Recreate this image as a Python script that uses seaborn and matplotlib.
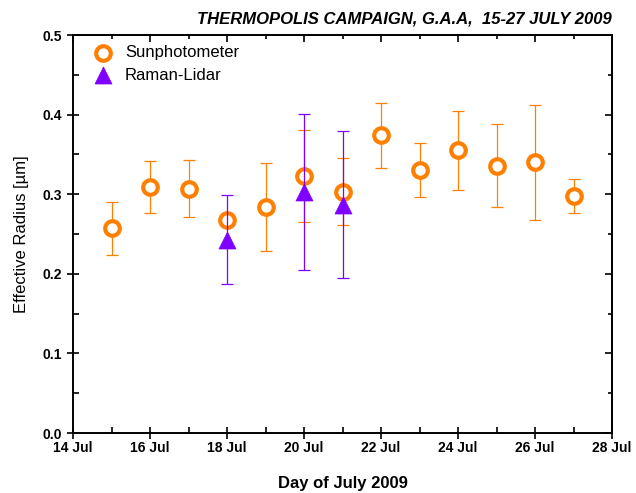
import numpy as np
import pandas as pd
import matplotlib
matplotlib.use("Agg")
import matplotlib.pyplot as plt
from matplotlib.ticker import MultipleLocator, FormatStrFormatter
import seaborn as sns

# data
sun_day = [15, 16, 17, 18, 19, 20, 21, 22, 23, 24, 25, 26, 27]
sun_reff = [0.257, 0.309, 0.307, 0.267, 0.284, 0.323, 0.303, 0.374, 0.330, 0.355, 0.336, 0.340, 0.298]
sun_err = [0.033, 0.033, 0.036, 0.0, 0.055, 0.058, 0.042, 0.041, 0.034, 0.050, 0.052, 0.072, 0.021]

lidar_day = [18, 20, 21]
lidar_reff = [0.243, 0.303, 0.287]
lidar_err = [0.056, 0.098, 0.092]

day_ticks = [14, 16, 18, 20, 22, 24, 26, 28]
day_labels = ["14 Jul", "16 Jul", "18 Jul", "20 Jul", "22 Jul", "24 Jul", "26 Jul", "28 Jul"]

orange = "#FF8000"
purple = "#8000FF"

sns.set_style("ticks")
plt.rcParams["font.family"] = ["Liberation Sans", "DejaVu Sans"]
plt.rcParams["text.color"] = "black"
plt.rcParams["axes.labelcolor"] = "black"
plt.rcParams["xtick.color"] = "black"
plt.rcParams["ytick.color"] = "black"

sun = pd.DataFrame({"day": sun_day, "reff": sun_reff, "err": sun_err})
lidar = pd.DataFrame({"day": lidar_day, "reff": lidar_reff, "err": lidar_err})

fig = plt.figure(figsize=(6.36, 4.93), dpi=100)
ax = fig.add_axes([0.1148, 0.1217, 0.8475, 0.8073])

# orange series: error bars then hollow circles
sun_e = sun[sun["err"] > 0]
ax.errorbar(sun_e["day"], sun_e["reff"], yerr=sun_e["err"], fmt="none",
            ecolor=orange, elinewidth=0.9, capsize=4.5, capthick=0.9, zorder=2)
sns.scatterplot(data=sun, x="day", y="reff", ax=ax, marker="o", s=110,
                facecolor="white", edgecolor=orange, linewidth=3,
                label="Sunphotometer", zorder=3)

# purple series on top
ax.errorbar(lidar["day"], lidar["reff"], yerr=lidar["err"], fmt="none",
            ecolor=purple, elinewidth=0.9, capsize=4.5, capthick=0.9, zorder=4)
sns.scatterplot(data=lidar, x="day", y="reff", ax=ax, marker="^", s=150,
                color=purple, edgecolor=purple, linewidth=0.5,
                label="Raman-Lidar", zorder=5)

ax.set_xlim(14, 28)
ax.set_ylim(0, 0.5)
ax.set_xticks(day_ticks)
ax.set_xticklabels(day_labels)
ax.xaxis.set_minor_locator(MultipleLocator(1))
ax.yaxis.set_major_locator(MultipleLocator(0.1))
ax.yaxis.set_minor_locator(MultipleLocator(0.05))
ax.yaxis.set_major_formatter(FormatStrFormatter("%.1f"))

for s in ax.spines.values():
    s.set_visible(True)
    s.set_linewidth(1.4)
    s.set_color("black")

ax.tick_params(which="major", direction="inout", length=8, width=1.2,
               labelsize=10, pad=2)
ax.tick_params(axis="y", which="major", pad=4)
ax.tick_params(which="minor", direction="in", length=4, width=1.2)

# inward ticks on the top and right edges
top = ax.secondary_xaxis("top")
top.set_xticks(day_ticks)
top.xaxis.set_minor_locator(MultipleLocator(1))
top.tick_params(which="major", direction="in", length=5, width=1.2, labeltop=False)
top.tick_params(which="minor", direction="in", length=3, width=1.2)
top.spines["top"].set_linewidth(1.4)
right = ax.secondary_yaxis("right")
right.yaxis.set_major_locator(MultipleLocator(0.1))
right.yaxis.set_minor_locator(MultipleLocator(0.05))
right.tick_params(which="major", direction="in", length=5, width=1.2, labelright=False)
right.tick_params(which="minor", direction="in", length=3, width=1.2)
right.spines["right"].set_linewidth(1.4)

for lab in ax.get_xticklabels() + ax.get_yticklabels():
    lab.set_fontweight("bold")

ax.set_xlabel("Day of July 2009", fontsize=12, fontweight="bold", labelpad=15)
ax.set_ylabel("Effective Radius [µm]", fontsize=12, labelpad=10)
ax.set_title("THERMOPOLIS CAMPAIGN, G.A.A,  15-27 JULY 2009", loc="right",
             fontsize=12, fontweight="bold", fontstyle="italic", pad=8)

ax.legend(loc="upper left", frameon=False, fontsize=12, handletextpad=0.4,
          borderaxespad=0.2, labelspacing=0.45, handlelength=1.8,
          bbox_to_anchor=(0.01, 1.0))

fig.savefig("out.png", dpi=100)
